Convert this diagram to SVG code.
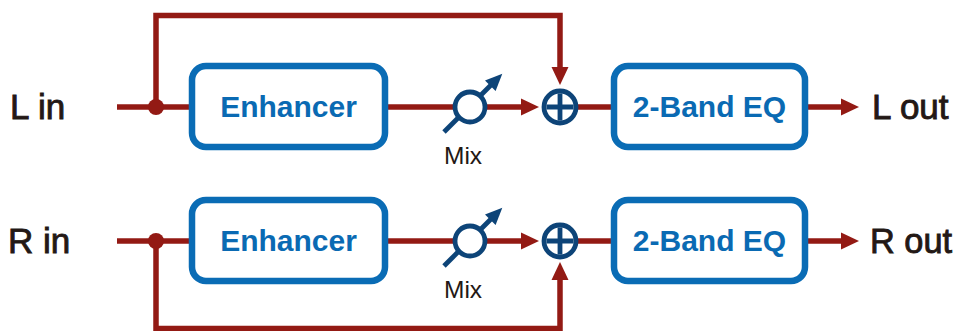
<svg xmlns="http://www.w3.org/2000/svg" width="958" height="331" viewBox="0 0 958 331">
  <defs>
    <style>
      .wire { fill: none; stroke: #931a14; stroke-width: 5.5; }
      .box { fill: #ffffff; stroke: #0a6cb5; stroke-width: 6.5; }
      .boxlabel { font-family: "Liberation Sans", Arial, sans-serif; font-weight: bold; font-size: 30px; fill: #0a6ab3; text-anchor: middle; }
      .io { font-family: "Liberation Sans", Arial, sans-serif; font-size: 35px; fill: #231815; stroke: #231815; stroke-width: 0.9; }
      .mix { font-family: "Liberation Sans", Arial, sans-serif; font-size: 24.5px; fill: #231815; }
      .ring { fill: #ffffff; stroke: #0d4478; stroke-width: 4.8; }
      .navy { fill: none; stroke: #0d4478; stroke-width: 4.8; }
      .dot { fill: #931a14; }
    </style>
    <marker id="redArrow" markerUnits="userSpaceOnUse" markerWidth="18" markerHeight="17" refX="1" refY="8.5" orient="auto" overflow="visible">
      <path d="M0,0 L18,8.5 L0,17 Z" fill="#931a14"/>
    </marker>
    <marker id="navyArrow" markerUnits="userSpaceOnUse" markerWidth="17" markerHeight="15" refX="1" refY="7.5" orient="auto" overflow="visible">
      <path d="M0,0 L17,7.5 L0,15 Z" fill="#0d4478"/>
    </marker>
  </defs>

  <g id="connectors">
    <!-- Row L -->
    <path class="wire" d="M117,107 H190"/>
    <path class="wire" d="M156,107 V15.5 H560 V68" marker-end="url(#redArrow)"/>
    <path class="wire" d="M387,107 H522" marker-end="url(#redArrow)"/>
    <path class="wire" d="M577,107 H612"/>
    <path class="wire" d="M807,107 H842" marker-end="url(#redArrow)"/>
    <circle class="dot" cx="156" cy="107" r="8"/>
    <!-- Row R -->
    <path class="wire" d="M117,241 H190"/>
    <path class="wire" d="M156,241 V328.5 H560 V279" marker-end="url(#redArrow)"/>
    <path class="wire" d="M387,241 H522" marker-end="url(#redArrow)"/>
    <path class="wire" d="M577,241 H612"/>
    <path class="wire" d="M807,241 H842" marker-end="url(#redArrow)"/>
    <circle class="dot" cx="156" cy="241" r="8"/>
  </g>

  <g id="node-l-in">
    <text class="io" x="10" y="119">L in</text>
  </g>
  <g id="node-l-enhancer">
    <rect class="box" x="192" y="66" width="193" height="81" rx="14"/>
    <text class="boxlabel" x="288.5" y="117">Enhancer</text>
  </g>
  <g id="node-l-mix">
    <path class="navy" d="M444,132 L491,85" marker-end="url(#navyArrow)"/>
    <circle class="ring" cx="470" cy="107" r="15"/>
    <text class="mix" x="444" y="163.5">Mix</text>
  </g>
  <g id="node-l-sum">
    <circle class="ring" cx="560" cy="107" r="16"/>
    <path class="navy" d="M546.5,107 H573.5 M560,93.5 V120.5"/>
  </g>
  <g id="node-l-eq">
    <rect class="box" x="614" y="66" width="191" height="81" rx="14"/>
    <text class="boxlabel" x="709.5" y="117">2-Band EQ</text>
  </g>
  <g id="node-l-out">
    <text class="io" x="872" y="118.5">L out</text>
  </g>

  <g id="node-r-in">
    <text class="io" x="8" y="253">R in</text>
  </g>
  <g id="node-r-enhancer">
    <rect class="box" x="192" y="200" width="193" height="81" rx="14"/>
    <text class="boxlabel" x="288.5" y="251">Enhancer</text>
  </g>
  <g id="node-r-mix">
    <path class="navy" d="M444,266 L491,219" marker-end="url(#navyArrow)"/>
    <circle class="ring" cx="470" cy="241" r="15"/>
    <text class="mix" x="444" y="298">Mix</text>
  </g>
  <g id="node-r-sum">
    <circle class="ring" cx="560" cy="241" r="16"/>
    <path class="navy" d="M546.5,241 H573.5 M560,227.5 V254.5"/>
  </g>
  <g id="node-r-eq">
    <rect class="box" x="614" y="200" width="191" height="81" rx="14"/>
    <text class="boxlabel" x="709.5" y="251">2-Band EQ</text>
  </g>
  <g id="node-r-out">
    <text class="io" x="870" y="252.5" textLength="82" lengthAdjust="spacingAndGlyphs">R out</text>
  </g>
</svg>
